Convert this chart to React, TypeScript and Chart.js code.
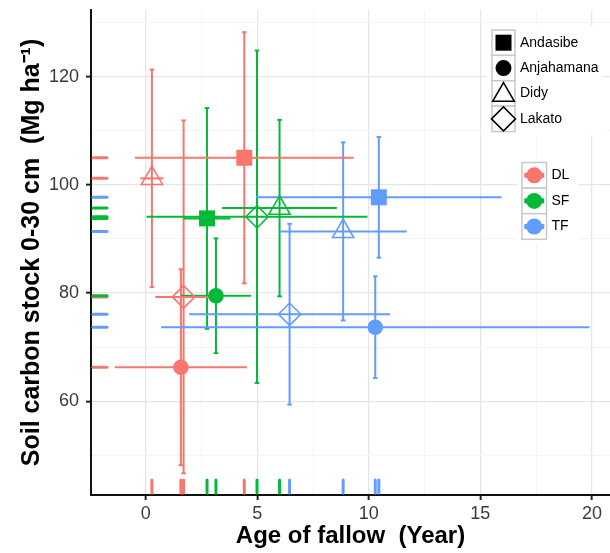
import React, { useEffect, useRef } from 'react';
import { Chart, registerables } from 'chart.js';

Chart.register(...registerables);

// ---------- data ----------
const sites = ['Andasibe', 'Anjahamana', 'Didy', 'Lakato'];
const groups = ['DL', 'SF', 'TF'];

// DL
const DL_age = [4.42, 1.58, 0.28, 1.7];
const DL_ageSD = [4.9, 2.96, 0.52, 1.27];
const DL_stock = [105.0, 66.3, 101.2, 79.3];
const DL_stockSD = [23.2, 18.1, 20.1, 32.6];
// SF
const SF_age = [2.75, 3.15, 6.0, 4.99];
const SF_ageSD = [1.05, 1.57, 2.57, 4.95];
const SF_stock = [93.8, 79.5, 95.7, 94.1];
const SF_stockSD = [20.4, 10.6, 16.3, 30.7];
// TF
const TF_age = [10.45, 10.29, 8.85, 6.45];
const TF_ageSD = [5.5, 9.6, 2.85, 4.5];
const TF_stock = [97.7, 73.7, 91.4, 76.1];
const TF_stockSD = [11.15, 9.4, 16.45, 16.7];

const xMajorTicks = [0, 5, 10, 15, 20];
const xMinorTicks = [2.5, 7.5, 12.5, 17.5];
const yMajorTicks = [60, 80, 100, 120];
const yMinorTicks = [50, 70, 90, 110, 130];

// ---------- styles ----------
const groupColors = ['#F8766D', '#00BA38', '#619CFF'];
const siteShapes = ['rect', 'circle', 'triangle', 'rectRot'];
const siteRadius = [11.3, 7.8, 12.2, 11.2];
const siteFilled = [true, true, false, false];

const groupData = [
  { age: DL_age, ageSD: DL_ageSD, stock: DL_stock, stockSD: DL_stockSD },
  { age: SF_age, ageSD: SF_ageSD, stock: SF_stock, stockSD: SF_stockSD },
  { age: TF_age, ageSD: TF_ageSD, stock: TF_stock, stockSD: TF_stockSD },
];

const FONT = '"Liberation Sans", Arial, Helvetica, sans-serif';

const rugPlugin = {
  id: 'rugs',
  beforeDatasetsDraw(chart: any) {
    const { ctx, chartArea, scales } = chart;
    ctx.save();
    ctx.lineWidth = 3;
    ctx.lineCap = 'round';
    groupData.forEach((g, gi) => {
      ctx.strokeStyle = groupColors[gi];
      g.stock.forEach((v) => {
        const py = scales.y.getPixelForValue(v);
        ctx.beginPath();
        ctx.moveTo(chartArea.left + 2, py);
        ctx.lineTo(chartArea.left + 16, py);
        ctx.stroke();
      });
      g.age.forEach((v) => {
        const px = scales.x.getPixelForValue(v);
        ctx.beginPath();
        ctx.moveTo(px, chartArea.bottom - 2);
        ctx.lineTo(px, chartArea.bottom - 15);
        ctx.stroke();
      });
    });
    ctx.restore();
  },
};

function drawShape(ctx: CanvasRenderingContext2D, shape: string, cx: number, cy: number) {
  ctx.beginPath();
  if (shape === 'rect') {
    ctx.fillRect(cx - 8, cy - 8, 16, 16);
  } else if (shape === 'circle') {
    ctx.arc(cx, cy, 8, 0, Math.PI * 2);
    ctx.fill();
  } else if (shape === 'triangle') {
    const r = 12.5;
    for (let k = 0; k < 3; k++) {
      const a = (k * 2 * Math.PI) / 3;
      const px = cx + Math.sin(a) * r;
      const py = cy - Math.cos(a) * r;
      if (k === 0) ctx.moveTo(px, py);
      else ctx.lineTo(px, py);
    }
    ctx.closePath();
    ctx.stroke();
  } else {
    const r = 12;
    ctx.moveTo(cx - r, cy);
    ctx.lineTo(cx, cy - r);
    ctx.lineTo(cx + r, cy);
    ctx.lineTo(cx, cy + r);
    ctx.closePath();
    ctx.stroke();
  }
}

const legendPlugin = {
  id: 'customLegends',
  afterDraw(chart: any) {
    const ctx: CanvasRenderingContext2D = chart.ctx;
    ctx.save();
    // shape legend
    const x1 = 492, y1 = 30, kw = 23, kh = 25.4;
    ctx.fillStyle = '#ffffff';
    ctx.fillRect(x1 - 5, y1 - 4, 116, kh * 4 + 8);
    sites.forEach((s, i) => {
      const top = y1 + i * kh;
      ctx.fillStyle = '#ffffff';
      ctx.fillRect(x1, top, kw, kh);
      ctx.strokeStyle = '#c8c8c8';
      ctx.lineWidth = 1.5;
      ctx.strokeRect(x1, top, kw, kh);
      ctx.fillStyle = '#000';
      ctx.strokeStyle = '#000';
      ctx.lineWidth = 1.5;
      const cy = top + kh / 2 + (siteShapes[i] === 'triangle' ? 1.5 : 0);
      drawShape(ctx, siteShapes[i], x1 + kw / 2, cy);
      ctx.fillStyle = '#000';
      ctx.font = `14px ${FONT}`;
      ctx.textBaseline = 'middle';
      ctx.textAlign = 'left';
      ctx.fillText(s, x1 + kw + 5, top + kh / 2);
    });
    // colour legend
    const x2 = 522, y2 = 162.5, kw2 = 24.5, kh2 = 25.6;
    ctx.fillStyle = '#ffffff';
    ctx.fillRect(x2 - 5, y2 - 4, 62, kh2 * 3 + 8);
    groups.forEach((g, i) => {
      const top = y2 + i * kh2;
      ctx.fillStyle = '#ffffff';
      ctx.fillRect(x2, top, kw2, kh2);
      ctx.strokeStyle = '#c8c8c8';
      ctx.lineWidth = 1.5;
      ctx.strokeRect(x2, top, kw2, kh2);
      const cx = x2 + kw2 / 2, cy = top + kh2 / 2;
      ctx.strokeStyle = groupColors[i];
      ctx.lineWidth = 5;
      ctx.beginPath();
      ctx.moveTo(cx - 10, cy);
      ctx.lineTo(cx + 10, cy);
      ctx.stroke();
      ctx.fillStyle = groupColors[i];
      ctx.beginPath();
      ctx.arc(cx, cy, 8, 0, Math.PI * 2);
      ctx.fill();
      ctx.fillStyle = '#000';
      ctx.font = `14px ${FONT}`;
      ctx.textBaseline = 'middle';
      ctx.textAlign = 'left';
      ctx.fillText(g, x2 + kw2 + 5, cy);
    });
    ctx.restore();
  },
};

function buildDatasets() {
  const ds: any[] = [];
  groupData.forEach((g, gi) => {
    const c = groupColors[gi];
    sites.forEach((_, si) => {
      ds.push({
        type: 'scatter',
        showLine: true,
        data: [
          { x: g.age[si], y: g.stock[si] - g.stockSD[si] },
          { x: g.age[si], y: g.stock[si] + g.stockSD[si] },
        ],
        borderColor: c,
        borderWidth: 2,
        pointStyle: 'line',
        pointRadius: 2.3,
        pointBorderColor: c,
        pointBorderWidth: 2,
        pointBackgroundColor: c,
        order: 3,
      });
      ds.push({
        type: 'scatter',
        showLine: true,
        data: [
          { x: g.age[si] - g.ageSD[si], y: g.stock[si] },
          { x: g.age[si] + g.ageSD[si], y: g.stock[si] },
        ],
        borderColor: c,
        borderWidth: 2,
        pointRadius: 0,
        order: 2,
      });
    });
  });
  groupData.forEach((g, gi) => {
    const c = groupColors[gi];
    ds.push({
      type: 'scatter',
      label: groups[gi],
      data: sites.map((_, si) => ({ x: g.age[si], y: g.stock[si] })),
      pointStyle: siteShapes,
      pointRadius: siteRadius,
      pointBackgroundColor: siteFilled.map((f) => (f ? c : 'rgba(0,0,0,0)')),
      pointBorderColor: c,
      pointBorderWidth: siteFilled.map((f) => (f ? 0 : 1.6)),
      order: 0,
    });
  });
  return ds;
}

export default function App() {
  const ref = useRef<HTMLCanvasElement>(null);
  useEffect(() => {
    document.body.style.margin = '0';
    const chart = new Chart(ref.current as HTMLCanvasElement, {
      type: 'scatter',
      data: { datasets: buildDatasets() },
      plugins: [rugPlugin, legendPlugin],
      options: {
        animation: false,
        responsive: false,
        events: [],
        layout: { autoPadding: false, padding: { top: 10, left: 0, right: 0, bottom: 0 } },
        plugins: { legend: { display: false }, tooltip: { enabled: false } },
        scales: {
          x: {
            type: 'linear',
            min: -2.45,
            max: 20.81,
            afterBuildTicks: (scale: any) => {
              scale.ticks = [...xMajorTicks, ...xMinorTicks]
                .sort((a, b) => a - b)
                .map((v) => ({ value: v, major: xMajorTicks.includes(v) }));
            },
            afterFit: (scale: any) => {
              scale.height = 58;
              scale.paddingLeft = 0;
              scale.paddingRight = 0;
            },
            ticks: {
              autoSkip: false,
              maxRotation: 0,
              padding: 3,
              color: '#3a3a3a',
              font: { family: FONT, size: 18 },
              callback: (v: any) => (xMajorTicks.includes(Number(v)) ? String(v) : ''),
            },
            grid: {
              color: (c: any) => (c.tick && xMajorTicks.includes(c.tick.value) ? '#e6e6e6' : '#f4f4f4'),
              lineWidth: (c: any) => (c.tick && xMajorTicks.includes(c.tick.value) ? 1.3 : 1),
              tickColor: (c: any) => (c.tick && xMajorTicks.includes(c.tick.value) ? '#222' : 'rgba(0,0,0,0)'),
              tickWidth: 2,
              tickLength: 5,
            },
            border: { color: '#111', width: 2 },
            title: {
              display: true,
              text: 'Age of fallow  (Year)',
              color: '#000',
              font: { family: FONT, size: 24, weight: 'bold' },
              padding: { top: 0, bottom: 2 },
            },
          },
          y: {
            type: 'linear',
            min: 42.7,
            max: 132.3,
            afterBuildTicks: (scale: any) => {
              scale.ticks = [...yMajorTicks, ...yMinorTicks]
                .sort((a, b) => a - b)
                .map((v) => ({ value: v, major: yMajorTicks.includes(v) }));
            },
            afterFit: (scale: any) => {
              scale.width = 91;
              scale.paddingTop = 0;
              scale.paddingBottom = 0;
            },
            ticks: {
              autoSkip: false,
              padding: 7,
              color: '#3a3a3a',
              font: { family: FONT, size: 18 },
              callback: (v: any) => (yMajorTicks.includes(Number(v)) ? String(v) : ''),
            },
            grid: {
              color: (c: any) => (c.tick && yMajorTicks.includes(c.tick.value) ? '#e6e6e6' : '#f4f4f4'),
              lineWidth: (c: any) => (c.tick && yMajorTicks.includes(c.tick.value) ? 1.3 : 1),
              tickColor: (c: any) => (c.tick && yMajorTicks.includes(c.tick.value) ? '#222' : 'rgba(0,0,0,0)'),
              tickWidth: 2,
              tickLength: 5,
            },
            border: { color: '#111', width: 2 },
            title: {
              display: true,
              text: 'Soil carbon stock 0-30 cm  (Mg ha\u207B\u00B9)',
              color: '#000',
              font: { family: FONT, size: 25, weight: 'bold' },
              padding: { top: 17, bottom: 0 },
            },
          },
        },
      } as any,
    });
    return () => chart.destroy();
  }, []);
  return (
    <div style={{ width: 610, height: 553 }}>
      <canvas ref={ref} width={610} height={553} style={{ display: 'block' }} />
    </div>
  );
}
